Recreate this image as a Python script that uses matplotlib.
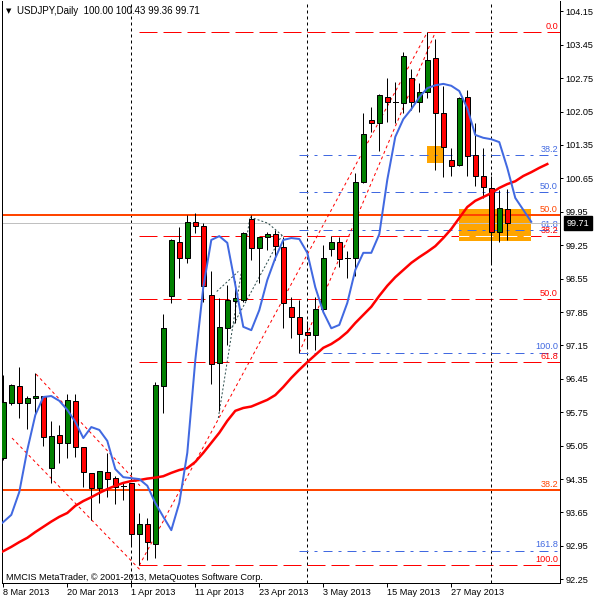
import matplotlib
matplotlib.use('Agg')
import matplotlib.pyplot as plt
from matplotlib.patches import Rectangle

plt.rcParams['font.family'] = ['Liberation Sans', 'DejaVu Sans']
plt.rcParams['lines.scale_dashes'] = False

PX = 0.72   # one screen pixel in points (dpi 100)
FS = 6.6

# --- daily bars, 8 Mar 2013 .. 5 Jun 2013 (bar index 0..63) ---
opens = [94.79, 95.95, 96.30, 95.95, 96.05, 96.09, 94.58, 95.27, 95.10, 95.99,
         95.02, 94.47, 94.16, 94.49, 94.37, 94.21, 94.26, 93.20, 93.40, 93.00,
         96.29, 98.19, 99.32, 98.99, 99.74, 99.65, 98.21, 96.78, 97.51, 98.09,
         98.10, 99.79, 99.20, 99.43, 99.48, 99.22, 97.95, 97.74, 97.43, 97.37,
         97.91, 99.17, 99.31, 98.99, 98.99, 100.58, 101.87, 101.80, 102.36, 102.24,
         102.22, 102.75, 102.26, 102.47, 103.17, 102.01, 101.03, 100.93, 102.35, 101.15,
         100.71, 100.44, 99.53, 100.00]
highs = [96.53, 96.34, 96.70, 96.09, 96.57, 96.10, 95.57, 95.48, 96.13, 96.13,
         95.02, 94.48, 94.52, 94.89, 94.41, 94.27, 94.27, 93.63, 93.53, 96.38,
         97.80, 99.37, 99.64, 99.88, 99.92, 99.71, 98.71, 98.14, 98.42, 98.49,
         99.53, 99.88, 99.43, 99.53, 99.57, 99.42, 98.17, 98.10, 97.66, 98.17,
         99.25, 99.45, 99.43, 99.13, 100.76, 102.01, 102.14, 102.42, 102.75, 102.66,
         103.29, 102.94, 102.64, 103.71, 103.58, 102.59, 101.28, 102.35, 102.50, 101.80,
         101.28, 100.71, 100.41, 100.43]
lows = [94.75, 95.90, 95.63, 95.40, 95.69, 95.04, 94.27, 94.69, 94.80, 94.82,
        94.18, 93.49, 93.84, 93.98, 93.83, 93.91, 92.97, 92.54, 92.65, 92.70,
        95.73, 98.04, 98.57, 98.88, 99.50, 98.07, 96.34, 95.78, 97.16, 97.61,
        98.07, 98.94, 98.46, 99.15, 98.94, 97.52, 97.31, 97.00, 97.09, 97.05,
        97.86, 99.02, 98.80, 98.56, 98.60, 100.55, 101.63, 101.23, 101.84, 101.82,
        102.03, 102.08, 102.05, 102.33, 100.83, 100.67, 100.71, 100.90, 100.69, 100.49,
        100.23, 98.87, 99.32, 99.36]
closes = [95.96, 96.32, 95.95, 96.05, 96.09, 95.24, 95.25, 95.10, 96.01, 95.02,
          94.49, 94.16, 94.52, 94.35, 94.18, 94.21, 93.20, 93.40, 93.03, 96.32,
          97.51, 99.36, 98.99, 99.74, 99.65, 98.40, 96.76, 97.54, 98.10, 98.14,
          99.50, 99.20, 99.42, 99.48, 99.23, 98.03, 97.74, 97.40, 97.37, 97.91,
          98.99, 99.31, 98.97, 98.99, 100.57, 101.57, 101.80, 102.40, 102.24, 102.24,
          103.21, 102.24, 102.46, 103.12, 102.01, 101.30, 100.91, 102.33, 101.12, 100.71,
          100.46, 99.53, 100.02, 99.71]

# moving averages (values from bar -1, shifted forward past the last bar)
ma_blue = [93.32, 93.45, 93.60, 94.08, 94.96, 95.69, 96.07, 96.09, 95.99, 95.80,
           95.55, 95.21, 95.44, 95.38, 95.15, 94.56, 94.39, 94.37, 94.35, 94.21,
           93.85, 93.56, 93.28, 93.85, 94.90, 96.84, 98.37, 99.36, 99.44, 99.30,
           98.42, 97.54, 97.47, 97.89, 98.52, 98.98, 99.36, 99.40, 99.38, 99.09,
           98.37, 97.85, 97.51, 97.58, 98.04, 98.73, 99.09, 99.09, 99.48, 100.62,
           101.52, 101.89, 102.10, 102.35, 102.54, 102.60, 102.63, 102.59, 102.48, 102.12,
           101.56, 101.50, 101.47, 101.41, 100.87, 100.24, 99.99, 99.74]
ma_red = [92.76, 92.84, 92.93, 93.03, 93.12, 93.24, 93.35, 93.46, 93.56, 93.64,
          93.79, 93.89, 93.97, 94.06, 94.14, 94.21, 94.27, 94.31, 94.33, 94.36,
          94.38, 94.41, 94.48, 94.54, 94.58, 94.71, 94.90, 95.11, 95.32, 95.57,
          95.78, 95.84, 95.87, 95.94, 96.01, 96.11, 96.28, 96.47, 96.64, 96.80,
          96.95, 97.10, 97.18, 97.29, 97.43, 97.62, 97.79, 97.96, 98.19, 98.40,
          98.58, 98.73, 98.88, 99.00, 99.11, 99.23, 99.40, 99.59, 99.82, 100.05,
          100.18, 100.26, 100.34, 100.45, 100.53, 100.59, 100.70, 100.78, 100.87, 100.95]

date_idx = [0, 8, 16, 24, 32, 40, 48, 56]
date_labels = ['8 Mar 2013', '20 Mar 2013', '1 Apr 2013', '11 Apr 2013',
               '23 Apr 2013', '3 May 2013', '15 May 2013', '27 May 2013']
month_sep = [16, 38, 61]
price_ticks = [104.15, 103.45, 102.75, 102.05, 101.35, 100.65, 99.95, 99.25, 98.55,
               97.85, 97.15, 96.45, 95.75, 95.05, 94.35, 93.65, 92.95, 92.25]

# fibonacci objects
red_fib = dict(start=17, hi=103.71, lo=92.54, levels=[0.0, 38.2, 50.0, 61.8, 100.0])
blue_fib = dict(start=37, hi=103.71, lo=97.00, levels=[38.2, 50.0, 61.8, 100.0, 161.8])
orange_levels = [(99.88, '50.0'), (94.12, '38.2')]
last_price = 99.71

# drawn objects
boxes = [(53, 55, 100.97, 101.33), (57, 66, 99.34, 100.01)]
red_trends = [([17, 53], [92.54, 103.71]), ([37, 54], [97.00, 103.71]),
              ([4.09, 17.09], [96.55, 94.21]), ([1.09, 17.09], [95.21, 92.45])]
gray_trends = [([26.68, 29.38], [98.28, 98.70]), ([26.88, 30.84], [95.63, 99.84]),
               ([28.55, 34.84], [97.52, 99.46]), ([30.84, 33.09, 34.96], [99.84, 99.71, 99.44])]

RED = '#FF0000'
BLUE = '#4169E1'
ORANGE = '#FF4500'
BOXC = '#FFA500'
GREEN = '#008000'

fig = plt.figure(figsize=(6, 6), dpi=100)
ax = fig.add_axes([2 / 600, 17 / 600, 558 / 600, 582 / 600])
ax.set_xlim(-0.1625, 69.59)
ax.set_ylim(92.173, 104.366)

DASH = (18 * PX, 6 * PX)
DOT = (3 * PX, 3 * PX)
DASHDOT = (9 * PX, 6 * PX, 3 * PX, 6 * PX)

# background rectangles
box_patches = []
for x0, x1, y0, y1 in boxes:
    r = Rectangle((x0, y0), x1 - x0, y1 - y0, facecolor=BOXC, edgecolor='none', zorder=1)
    ax.add_patch(r)
    box_patches.append(r)

# period separators
for s in month_sep:
    ax.axvline(s, color='black', lw=PX, dashes=DOT, zorder=1.5)

def level_label(p, txt, color, z=6):
    ax.annotate(txt, xy=(1, p), xycoords=('axes fraction', 'data'), xytext=(-1.5, 0.8),
                textcoords='offset points', ha='right', va='bottom', color=color,
                fontsize=FS, zorder=z)

# red fibonacci
for lv in red_fib['levels']:
    p = red_fib['hi'] - (red_fib['hi'] - red_fib['lo']) * lv / 100
    ax.plot([red_fib['start'], 75], [p, p], color=RED, lw=PX, dashes=DASH, zorder=1.2)
    if lv == 38.2:
        w, = ax.plot([red_fib['start'], 75], [p, p], color='white', lw=PX, dashes=DASH, zorder=1.3)
        w.set_clip_path(box_patches[1])
    level_label(p, f'{lv:.1f}', RED, z=6)

# blue fibonacci
for lv in blue_fib['levels']:
    p = blue_fib['hi'] - (blue_fib['hi'] - blue_fib['lo']) * lv / 100
    ax.plot([blue_fib['start'], 75], [p, p], color=BLUE, lw=PX, dashes=DASHDOT, zorder=2)
    level_label(p, f'{lv:.1f}', BLUE, z=1.8)

# orange levels
for p, txt in orange_levels:
    ax.plot([-5, 75], [p, p], color=ORANGE, lw=2 * PX, zorder=2)
    level_label(p, txt, ORANGE)

# bid line
ax.plot([-5, 75], [last_price, last_price], color='#C0C0C0', lw=PX, zorder=2)

# trend lines
for xs, ys in red_trends:
    ax.plot(xs, ys, color=RED, lw=PX, dashes=DOT, zorder=2)
for xs, ys in gray_trends:
    ax.plot(xs, ys, color='#2F4F4F', lw=PX, dashes=(2 * PX, 2 * PX), zorder=2)

# candles
bw = 0.6
for i, (o, h, l, c) in enumerate(zip(opens, highs, lows, closes)):
    ax.plot([i, i], [l, h], color='black', lw=PX, zorder=3, solid_capstyle='butt')
    if c == o:
        ax.plot([i - bw / 2, i + bw / 2], [o, o], color='black', lw=PX, zorder=4)
        continue
    col = GREEN if c > o else RED
    ax.add_patch(Rectangle((i - bw / 2, min(o, c)), bw, abs(c - o), facecolor=col,
                           edgecolor='black', lw=PX, zorder=4))

# moving averages
ax.plot(range(-1, len(ma_red) - 1), ma_red, color=RED, lw=2.5 * PX, zorder=5)
ax.plot(range(-1, len(ma_blue) - 1), ma_blue, color=BLUE, lw=2 * PX, zorder=5)

# axes
for sp in ax.spines.values():
    sp.set_linewidth(PX)
    sp.set_color('black')
ax.spines['top'].set_visible(False)
ax.yaxis.tick_right()
ax.set_yticks(price_ticks)
ax.set_yticklabels([f'{t:.2f}' for t in price_ticks])
ax.tick_params(axis='y', direction='out', length=3 * PX, width=PX, pad=2, labelsize=FS)
ax.set_xticks(date_idx)
ax.set_xticklabels(date_labels)
for lbl in ax.get_xticklabels():
    lbl.set_horizontalalignment('left')
ax.tick_params(axis='x', direction='out', length=4 * PX, width=PX, pad=1, labelsize=FS)

# last price tag
ax.annotate(f'{last_price:.2f}', xy=(1, last_price), xycoords=('axes fraction', 'data'),
            xytext=(4.5, 0), textcoords='offset points', ha='left', va='center',
            color='white', fontsize=FS, annotation_clip=False,
            bbox=dict(boxstyle='square,pad=0.3', fc='black', ec='black'))

# texts
fig.text(6 / 600, 1 - 11 / 600, '\u25bc', family='DejaVu Sans', fontsize=5, va='center')
fig.text(17 / 600, 1 - 11 / 600, 'USDJPY,Daily  100.00 100.43 99.36 99.71',
         fontsize=FS + 0.4, va='center')
fig.text(6 / 600, 1 - 577 / 600, 'MMCIS MetaTrader, \u00a9 2001-2013, MetaQuotes Software Corp.',
         fontsize=FS, va='center')

fig.savefig('out.png', dpi=100)
